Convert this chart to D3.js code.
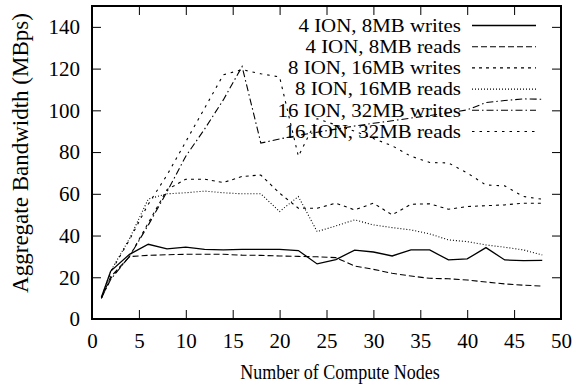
<!DOCTYPE html>
<html>
<head>
<meta charset="utf-8">
<script src="https://cdn.jsdelivr.net/npm/d3@7/dist/d3.min.js"></script>
<style>
  html, body { margin: 0; padding: 0; background: #fff; }
  svg { display: block; }
  svg text { font-family: "Liberation Serif", "Times New Roman", Times, serif; font-size: 21px; fill: #000; }
</style>
</head>
<body>
<svg id="chart"></svg>
<script>
'use strict';

/* ── data ────────────────────────────────── */
const computeNodes = [1, 2, 4, 6, 8, 10, 12, 14, 16, 18, 20, 22, 24, 26, 28, 30, 32, 34, 36, 38, 40, 42, 44, 46, 48];

const writes4  = [10.4, 23, 31, 35.8, 33.6, 34.4, 33.4, 33.1, 33.4, 33.4, 33.4, 32.8, 26.4, 28.5, 33, 32.1, 30.2, 33.1, 33.1, 28.3, 28.8, 34.2, 28.3, 28, 28.1];
const reads4   = [10, 20.3, 29.9, 30.5, 30.8, 31, 31, 31, 30.6, 30.5, 30.2, 30, 29.8, 29.4, 25.4, 23.8, 21.9, 20.6, 19.5, 19.3, 18.7, 17.7, 16.8, 16.2, 15.8];
const writes8  = [10, 19.5, 30, 46, 62, 67, 67, 65.4, 68.3, 69, 60.3, 53.1, 53.1, 55.5, 52.3, 55.5, 49.9, 55, 55.2, 52.6, 53.9, 54.3, 54.7, 55.5, 55.5];
const reads8   = [10, 23, 38.5, 57.5, 60, 60.5, 61.3, 60.5, 60, 60, 51.5, 58.7, 41.9, 44.6, 47.5, 45.1, 43.8, 42.7, 40.8, 37.9, 37.1, 35.5, 34.4, 33.1, 30.7];
const writes16 = [10, 19, 30, 45, 61, 78, 91, 105, 121, 84.3, 86.3, 88, 89.5, 91, 92.5, 93.8, 95, 96.3, 97.5, 98.8, 100.2, 103.7, 104.7, 105.5, 105.3];
const reads16  = [10, 22.5, 38, 55, 69, 85, 101, 117, 119.5, 117.5, 116, 78, 96, 93, 90, 86.5, 83, 78, 75, 74.8, 70, 64.2, 63.8, 58.7, 57.4];

const seriesNames = [
  '4 ION, 8MB writes', '4 ION, 8MB reads',
  '8 ION, 16MB writes', '8 ION, 16MB reads',
  '16 ION, 32MB writes', '16 ION, 32MB reads',
];
const seriesValues = [writes4, reads4, writes8, reads8, writes16, reads16];

const xTicks = [0, 5, 10, 15, 20, 25, 30, 35, 40, 45, 50];
const yTicks = [0, 20, 40, 60, 80, 100, 120, 140];

/* ── styles ──────────────────────────────── */
const dashes = ['none', '6,3', '3,4', '1,2', '7,3,1.5,3', '2.5,5'];

const W = 572, H = 387;
const M = { left: 92, right: 11, top: 6, bottom: 68 };

const svg = d3.select('#chart').attr('width', W).attr('height', H);

const x = d3.scaleLinear().domain([0, 50]).range([M.left, W - M.right]);
const y = d3.scaleLinear().domain([0, 150]).range([H - M.bottom, M.top]);

/* ── axes (gnuplot style: inward, mirrored) ── */
function styleAxis(g) {
  g.select('.domain').remove();
  g.selectAll('line').attr('stroke', '#000').attr('stroke-width', 1);
  g.selectAll('text').attr('font-family', null).attr('font-size', null).attr('fill', null);
}

svg.append('g')
  .attr('transform', `translate(0,${y(0)})`)
  .call(d3.axisBottom(x).tickValues(xTicks).tickSize(-9).tickSizeOuter(0).tickPadding(14))
  .call(styleAxis);

svg.append('g')
  .attr('transform', `translate(0,${y(150)})`)
  .call(d3.axisTop(x).tickValues(xTicks).tickSize(-9).tickSizeOuter(0).tickFormat(''))
  .call(styleAxis);

svg.append('g')
  .attr('transform', `translate(${x(0)},0)`)
  .call(d3.axisLeft(y).tickValues(yTicks).tickSize(-9).tickSizeOuter(0).tickPadding(12))
  .call(styleAxis);

svg.append('g')
  .attr('transform', `translate(${x(50)},0)`)
  .call(d3.axisRight(y).tickValues(yTicks).tickSize(-9).tickSizeOuter(0).tickFormat(''))
  .call(styleAxis);

// frame
svg.append('rect')
  .attr('x', x(0)).attr('y', y(150))
  .attr('width', x(50) - x(0)).attr('height', y(0) - y(150))
  .attr('fill', 'none').attr('stroke', '#000').attr('stroke-width', 2);

// axis titles
svg.append('text')
  .attr('transform', 'translate(340,379) scale(0.9,1)')
  .attr('text-anchor', 'middle')
  .style('font-size', '20px')
  .text('Number of Compute Nodes');

svg.append('text')
  .attr('transform', 'translate(28,153) rotate(-90)')
  .attr('text-anchor', 'middle')
  .style('font-size', '23px')
  .text('Aggregate Bandwidth (MBps)');

/* ── series ──────────────────────────────── */
const line = d3.line()
  .x((d, i) => x(computeNodes[i]))
  .y(d => y(d));

svg.append('g').selectAll('path').data(seriesValues).join('path')
  .attr('d', line)
  .attr('fill', 'none')
  .attr('stroke', '#000')
  .attr('stroke-width', (d, i) => i === 0 ? 1.3 : 1.1)
  .attr('stroke-dasharray', (d, i) => dashes[i]);

/* ── legend ──────────────────────────────── */
// rows sit 21px apart, so the text is set a touch smaller and widened
const leg = svg.append('g');
const rowY = i => 25.5 + i * 21.2;

leg.selectAll('text').data(seriesNames).join('text')
  .attr('transform', (d, i) => `translate(461,${rowY(i)}) scale(1.1,1)`)
  .attr('dy', '0.33em')
  .attr('text-anchor', 'end')
  .style('font-size', '19px')
  .text(d => d);

leg.selectAll('line').data(seriesNames).join('line')
  .attr('x1', 472).attr('x2', 536)
  .attr('y1', (d, i) => rowY(i)).attr('y2', (d, i) => rowY(i))
  .attr('stroke', '#000')
  .attr('stroke-width', (d, i) => i === 0 ? 1.3 : 1.1)
  .attr('stroke-dasharray', (d, i) => dashes[i]);
</script>
</body>
</html>
